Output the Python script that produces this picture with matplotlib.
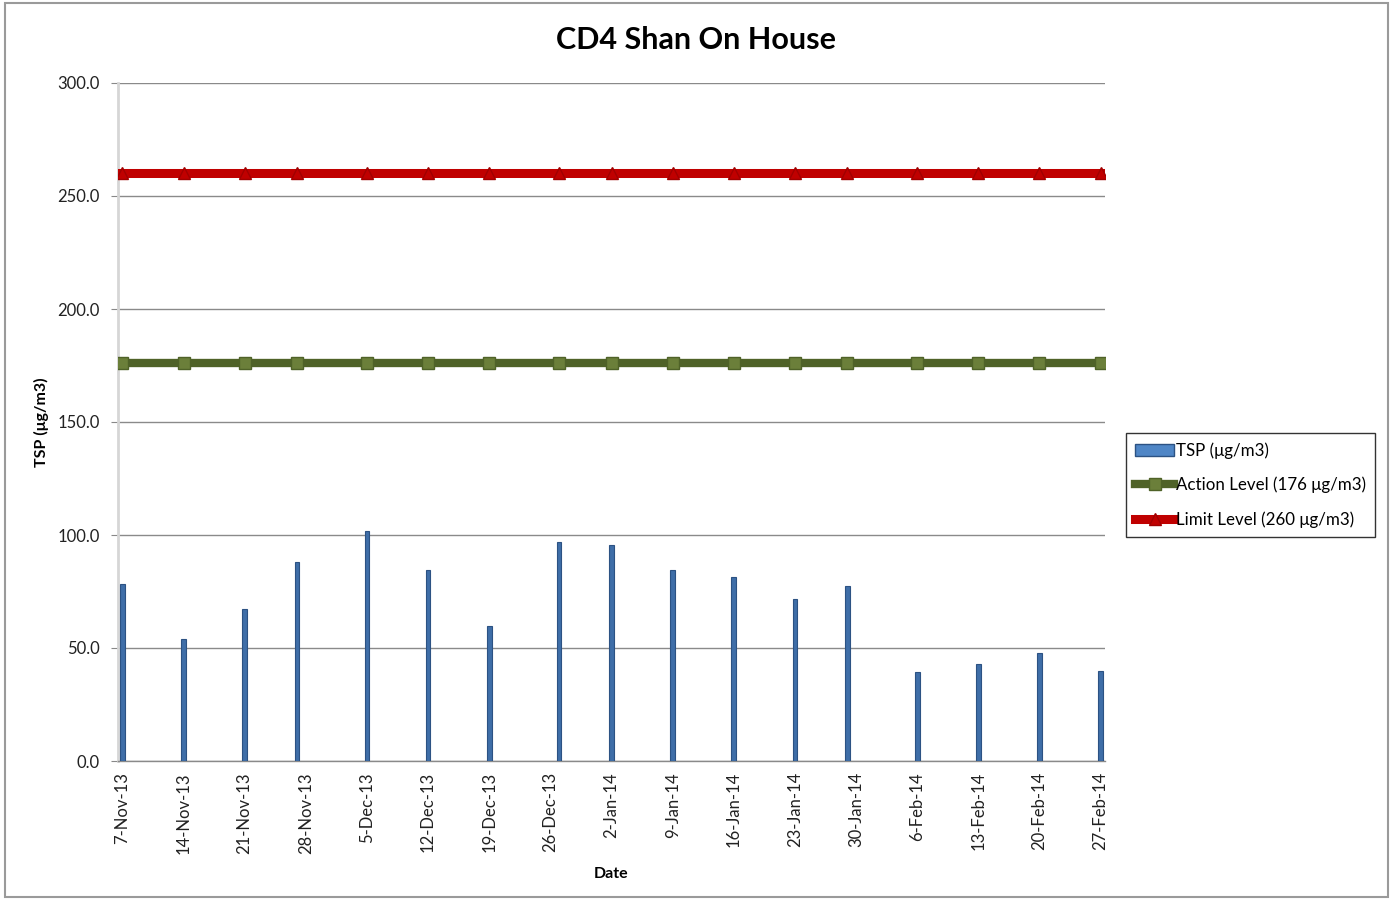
import matplotlib
matplotlib.use('Agg')
import matplotlib.pyplot as plt
import matplotlib.dates as mdates
from matplotlib.patches import Patch, Rectangle
from matplotlib.lines import Line2D
from datetime import datetime, timedelta

# ---- data ----
dates = ['2013-11-07', '2013-11-14', '2013-11-21', '2013-11-27', '2013-12-05',
         '2013-12-12', '2013-12-19', '2013-12-27', '2014-01-02', '2014-01-09',
         '2014-01-16', '2014-01-23', '2014-01-29', '2014-02-06', '2014-02-13',
         '2014-02-20', '2014-02-27']
tsp = [78.1, 54.0, 67.2, 88.1, 101.8, 84.7, 59.7, 96.7, 95.4, 84.6,
       81.6, 71.6, 77.5, 39.3, 42.9, 47.6, 39.7]
action = [176, 176, 176, 176, 176, 176, 176, 176, 176, 176,
          176, 176, 176, 176, 176, 176, 176]
limit = [260, 260, 260, 260, 260, 260, 260, 260, 260, 260,
         260, 260, 260, 260, 260, 260, 260]
tick_labels = ['7-Nov-13', '14-Nov-13', '21-Nov-13', '28-Nov-13', '5-Dec-13',
               '12-Dec-13', '19-Dec-13', '26-Dec-13', '2-Jan-14', '9-Jan-14',
               '16-Jan-14', '23-Jan-14', '30-Jan-14', '6-Feb-14', '13-Feb-14',
               '20-Feb-14', '27-Feb-14']
y_ticks = [0, 50, 100, 150, 200, 250, 300]

title = 'CD4 Shan On House'
series_names = ['TSP (\u03bcg/m3)', 'Action Level (176 \u03bcg/m3)', 'Limit Level (260 \u03bcg/m3)']

plt.rcParams['font.family'] = ['Lato', 'DejaVu Sans']

x = [datetime.strptime(d, '%Y-%m-%d') for d in dates]
tick_pos = [datetime.strptime(t, '%d-%b-%y') for t in tick_labels]

fig = plt.figure(figsize=(13.92, 8.99), dpi=100)
ax = fig.add_axes([118/1392, 1-761/899, (1105-118)/1392, (761-83)/899])

bar_color = '#3f6ea8'
ax.bar(x, tsp, width=0.55, color=bar_color, edgecolor='#2c5283', linewidth=0.8, zorder=3)
ax.plot(x, action, color='#4f6228', linewidth=6.0, marker='s', markersize=8,
        markerfacecolor='#6b7f3a', markeredgecolor='#4f6228', zorder=4)
ax.plot(x, limit, color='#c00000', linewidth=6.5, marker='^', markersize=9,
        markerfacecolor='#c00000', markeredgecolor='#a00000', zorder=4)

ax.set_xlim(x[0] - timedelta(hours=12), x[-1] + timedelta(hours=12))
ax.set_ylim(0, 300)
ax.set_yticks(y_ticks)
ax.set_yticklabels([f'{v:.1f}' for v in y_ticks], fontsize=12, color='#222222')
ax.set_xticks(tick_pos)
ax.set_xticklabels(tick_labels, rotation=90, fontsize=12, color='#222222')
ax.tick_params(axis='x', length=0, pad=8)
ax.tick_params(axis='y', length=5, color='#888888', pad=8)

ax.grid(axis='y', color='#8a8a8a', linewidth=1.0, zorder=0)
ax.set_axisbelow(True)
for s in ['top', 'right']:
    ax.spines[s].set_visible(False)
ax.spines['left'].set_color('#d6d6d6')
ax.spines['left'].set_linewidth(2)
ax.spines['bottom'].set_color('#8a8a8a')
ax.spines['bottom'].set_linewidth(1)

ax.set_ylabel('TSP (\u03bcg/m3)', fontsize=11.5, fontweight='bold', labelpad=6)
ax.set_xlabel('Date', fontsize=11.5, fontweight='bold', labelpad=10)
fig.text(696/1392, 1-40/899, title, ha='center', va='center', fontsize=22, fontweight='bold')

handles = [
    Patch(facecolor='#4f86c6', edgecolor='#2c5283'),
    Line2D([], [], color='#4f6228', linewidth=6, marker='s', markersize=8,
           markerfacecolor='#6b7f3a', markeredgecolor='#4f6228'),
    Line2D([], [], color='#c00000', linewidth=6.5, marker='^', markersize=9,
           markerfacecolor='#c00000', markeredgecolor='#a00000'),
]
leg = fig.legend(handles, series_names, loc='upper left',
                 bbox_to_anchor=(1126/1392, 1-433/899), fontsize=12.2,
                 frameon=True, fancybox=False, edgecolor='black',
                 handlelength=2.3, handletextpad=0.1, labelspacing=1.05,
                 borderpad=0.55, borderaxespad=0)
leg.get_frame().set_linewidth(1)

fig.patches.append(Rectangle((5/1392, 2/899), 1383/1392, 894/899, transform=fig.transFigure,
                             fill=False, edgecolor='#9a9a9a', linewidth=1.5))

fig.savefig('out.png', dpi=100)
